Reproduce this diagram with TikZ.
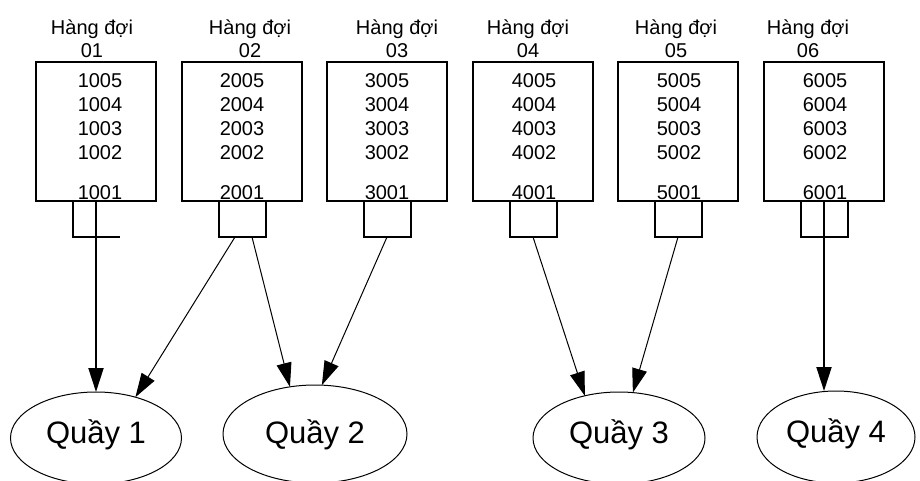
\documentclass[tikz,border=0pt]{standalone}
\usepackage{fontspec}
\setmainfont{Liberation Sans}
\usetikzlibrary{positioning,shapes.geometric,arrows.meta}

\begin{document}
\begin{tikzpicture}[x=1pt,y=-1pt,
    queue/.style={draw,line width=2pt,minimum width=120pt,minimum height=139pt},
    slot/.style={draw,line width=2pt,minimum width=47pt,minimum height=36pt},
    nums/.style={align=center,font=\fontsize{20}{24}\selectfont},
    head/.style={align=center,font=\fontsize{20}{23}\selectfont},
    desk/.style={draw,ellipse,line width=1pt,font=\fontsize{31}{36}\selectfont,text height=17pt,text depth=7pt},
    flow/.style={-{Triangle[length=24pt,width=15pt]},line width=1pt},
    mainflow/.style={flow,line width=2pt}]
  \tikzstyle{every node}+=[inner sep=0pt,outer sep=0pt]
  \useasboundingbox (0,0) rectangle (920,480);
  \node[queue] (q1) at (96,131.5) {};
  \node[queue] (q2) at (242,131.5) {};
  \node[queue] (q3) at (387,131.5) {};
  \node[queue] (q4) at (533,131.5) {};
  \node[queue] (q5) at (678,131.5) {};
  \node[queue] (q6) at (824,131.5) {};
  \node[head,above=4pt of q1.north,xshift=-4pt] (h1) {Hàng đợi\\01};
  \node[head,above=4pt of q2.north,xshift=8pt] (h2) {Hàng đợi\\02};
  \node[head,above=4pt of q3.north,xshift=10pt] (h3) {Hàng đợi\\03};
  \node[head,above=4pt of q4.north,xshift=-5pt] (h4) {Hàng đợi\\04};
  \node[head,above=4pt of q5.north,xshift=-2pt] (h5) {Hàng đợi\\05};
  \node[head,above=4pt of q6.north,xshift=-16pt] (h6) {Hàng đợi\\06};
  \node[nums,below=12pt of q1.north,xshift=4pt] (n1) {1005\\1004\\1003\\1002\\[16pt]1001};
  \node[nums,below=12pt of q2.north] (n2) {2005\\2004\\2003\\2002\\[16pt]2001};
  \node[nums,below=12pt of q3.north] (n3) {3005\\3004\\3003\\3002\\[16pt]3001};
  \node[nums,below=12pt of q4.north,xshift=1pt] (n4) {4005\\4004\\4003\\4002\\[16pt]4001};
  \node[nums,below=12pt of q5.north,xshift=1pt] (n5) {5005\\5004\\5003\\5002\\[16pt]5001};
  \node[nums,below=12pt of q6.north,xshift=1pt] (n6) {6005\\6004\\6003\\6002\\[16pt]6001};
  \node[minimum width=47pt,minimum height=36pt,below=0pt of q1] (s1) {};
  \draw[line width=2pt] (s1.north west) -- (s1.south west) -- (s1.south east);
  \node[slot,below=0pt of q2] (s2) {};
  \node[slot,below=0pt of q3] (s3) {};
  \node[slot,below=0pt of q4] (s4) {};
  \node[slot,below=0pt of q5] (s5) {};
  \node[slot,below=0pt of q6] (s6) {};
  \node[desk,minimum width=171pt,minimum height=92pt] (k1) at (96,438) {Quầy 1};
  \node[desk,minimum width=184pt,minimum height=98pt,text height=22pt,text depth=4pt] (k2) at (315,434) {Quầy 2};
  \node[desk,minimum width=172pt,minimum height=92pt] (k3) at (619,438) {Quầy 3};
  \node[desk,minimum width=158pt,minimum height=92pt] (k4) at (836,437) {Quầy 4};
  \draw[mainflow] (q1.south) -- (q1.south |- k1.north);
  \draw[flow] ([xshift=-7pt]s2.south) -- (k1.46);
  \draw[flow] ([xshift=10pt]s2.south) -- (k2.118);
  \draw[flow] (s3.south) -- (k2.82);
  \draw[flow] (s4.south) -- (k3.129);
  \draw[flow] (s5.south) -- (k3.73);
  \draw[mainflow] (q6.south) -- (q6.south |- k4.north);
\end{tikzpicture}
\end{document}
